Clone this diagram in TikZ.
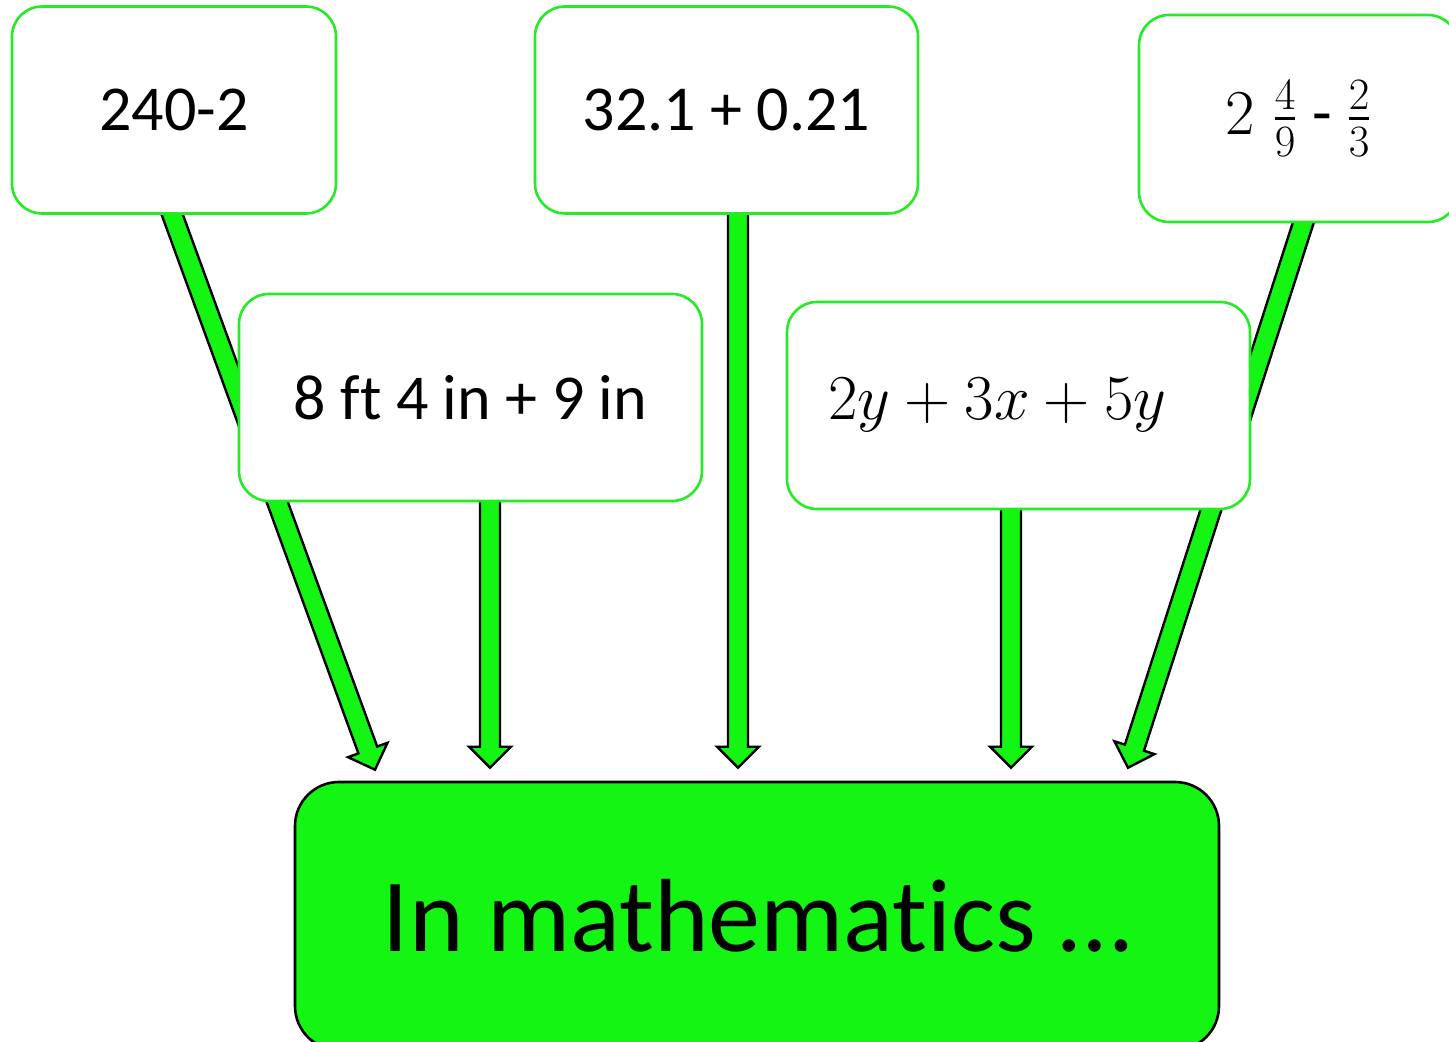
\documentclass[tikz,border=0pt]{standalone}
\usepackage{fix-cm}
\usepackage{amsmath}
\usepackage{fontspec}
\setmainfont{Carlito}[Ligatures=NoCommon]
\usetikzlibrary{calc,backgrounds}
\definecolor{boxgreen}{RGB}{36,236,36}
\definecolor{fillgreen}{RGB}{20,245,20}
\newcommand\mfrac[2]{\genfrac{}{}{1.8pt}{1}{#1}{#2}}
\tikzset{
  card/.style={draw=boxgreen, fill=white, line width=1.3pt, rounded corners=15pt, minimum height=103.5pt, align=center, font=\fontsize{32}{38}\selectfont},
  goal/.style={draw=black, fill=fillgreen, line width=1.3pt, rounded corners=22pt, minimum width=462pt, minimum height=134pt, font=\fontsize{52}{60}\selectfont},
  blk/.style={draw=black, fill=fillgreen, line width=1.2pt, line join=miter}
}
% block arrow from #1 to #2
\newcommand\blockarrow[2]{%
  \coordinate (hb) at ($(#2)!10.5pt!(#1)$);
  \draw[blk] ($(#1)!5pt!90:(#2)$) -- ($(hb)!5pt!90:(#2)$) -- ($(hb)!10.5pt!90:(#2)$) -- (#2)
    -- ($(hb)!10.5pt!-90:(#2)$) -- ($(hb)!5pt!-90:(#2)$) -- ($(#1)!5pt!-90:(#2)$) -- cycle;
}

\begin{document}
\begin{tikzpicture}[x=0.5pt, y=-0.5pt]
  \useasboundingbox (0,0) rectangle (1449,1042);
  \clip (0,0) rectangle (1449,1042);

  \node[card, minimum width=162pt] (sub) at (174,110) {240-2};
  \node[card, minimum width=191.5pt] (dec) at (726.5,110) {32.1 + 0.21};
  \node[card, minimum width=159.5pt] (frac) at (1298.5,118.5) {$2\;\mfrac{4}{9}$ - $\mfrac{2}{3}$};
  \node[card, minimum width=231.5pt] (meas) at (470.5,397.5) {8 ft 4 in + 9 in};
  \node[card, text width=190.5pt, inner xsep=20.5pt, align=left] (alg) at (1018.5,405.5) {$2y + 3x + 5y$};
  \node[goal] (math) at (757,916) {In mathematics \dots};

  \begin{scope}[on background layer]
    \coordinate (s1) at ($(sub.south)+(-9,-20)$);
    \coordinate (s2) at ($(meas.south)+(19.5,-20)$);
    \coordinate (s3) at ($(dec.south)+(11.5,-20)$);
    \coordinate (s4) at ($(alg.south)+(-7.5,-20)$);
    \coordinate (s5) at ($(frac.south)+(11,-20)$);
    \coordinate (t1) at ($(math.north)+(-382,-11)$);
    \coordinate (t2) at ($(math.north)+(-267,-13)$);
    \coordinate (t3) at ($(math.north)+(-19,-13)$);
    \coordinate (t4) at ($(math.north)+(254,-13)$);
    \coordinate (t5) at ($(math.north)+(371,-13)$);
    \foreach \s/\t in {s1/t1, s2/t2, s3/t3, s4/t4, s5/t5}
      \blockarrow{\s}{\t};
  \end{scope}
\end{tikzpicture}
\end{document}
